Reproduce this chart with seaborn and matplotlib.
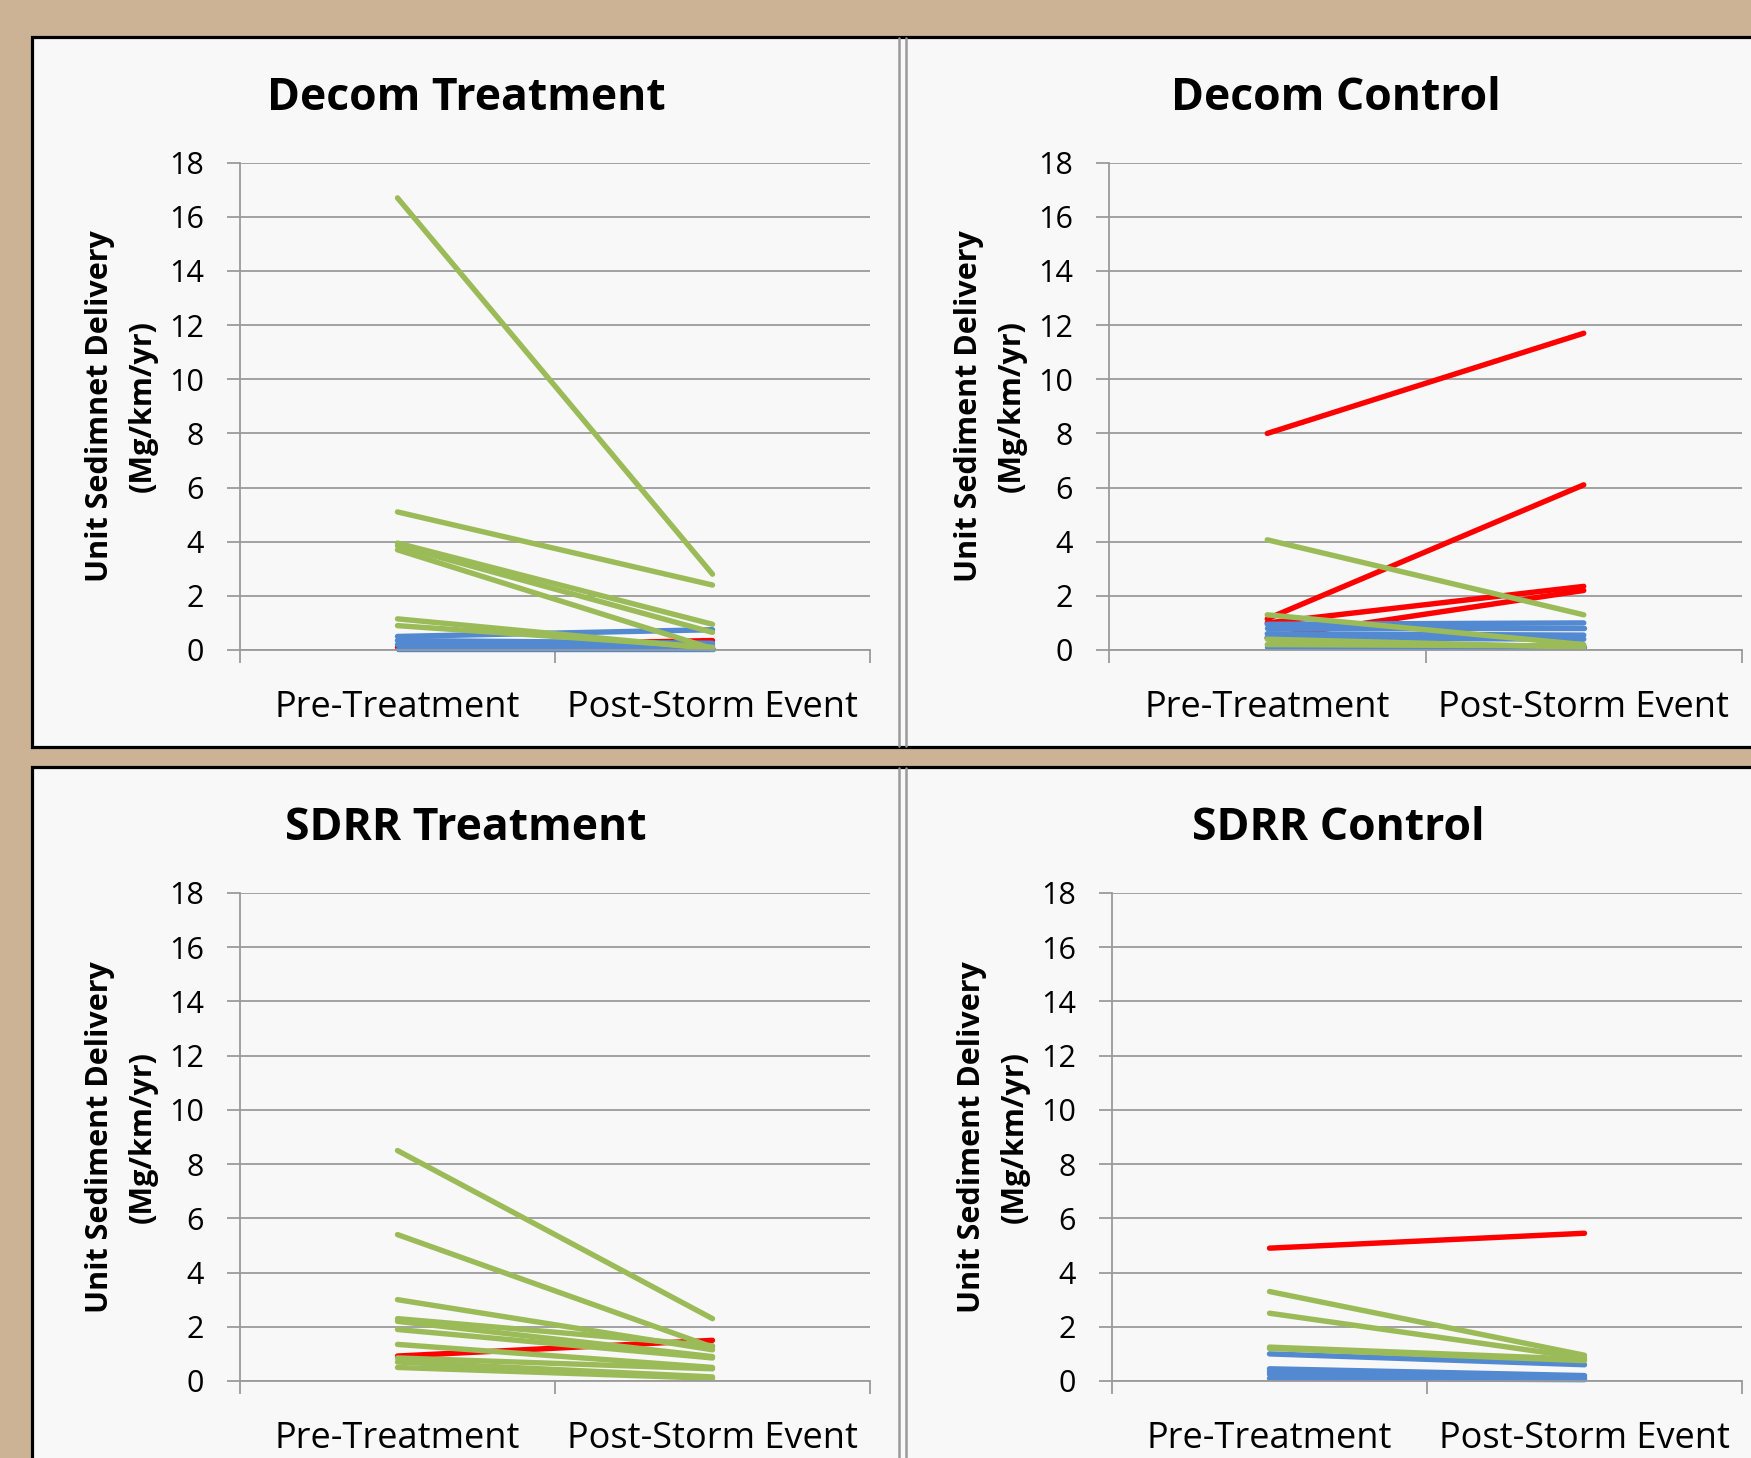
import numpy as np
import pandas as pd
import matplotlib.pyplot as plt
import seaborn as sns
from matplotlib.patches import Rectangle
from matplotlib.lines import Line2D

W, H = 1751, 1458

periods = ['Pre-Treatment', 'Post-Storm Event']

# ---- Decom Treatment ----
dt_green_pre = [16.7, 5.1, 3.95, 3.85, 3.7, 1.15, 0.9]
dt_green_post = [2.8, 2.4, 0.95, 0.65, 0.05, 0.05, 0.1]
dt_blue_pre = [0.5, 0.35, 0.2, 0.05]
dt_blue_post = [0.75, 0.25, 0.15, 0.05]
dt_red_pre = [0.1]
dt_red_post = [0.35]

# ---- Decom Control ----
dc_green_pre = [4.07, 1.3, 0.4, 0.2]
dc_green_post = [1.3, 0.2, 0.1, 0.15]
dc_blue_pre = [0.95, 0.8, 0.6, 0.45, 0.1]
dc_blue_post = [1.0, 0.8, 0.55, 0.4, 0.1]
dc_red_pre = [8.0, 1.15, 1.0, 0.45]
dc_red_post = [11.7, 6.1, 2.35, 2.2]

# ---- SDRR Treatment ----
st_green_pre = [8.5, 5.4, 3.0, 2.3, 2.2, 1.9, 1.35, 0.85, 0.7, 0.5]
st_green_post = [2.3, 1.25, 1.15, 1.3, 0.9, 0.85, 0.5, 0.45, 0.15, 0.1]
st_blue_pre = []
st_blue_post = []
st_red_pre = [0.92]
st_red_post = [1.5]

# ---- SDRR Control ----
sc_green_pre = [3.3, 2.5, 1.25, 1.2]
sc_green_post = [0.95, 0.85, 0.8, 0.75]
sc_blue_pre = [1.0, 0.45, 0.35, 0.25, 0.1]
sc_blue_post = [0.6, 0.2, 0.15, 0.1, 0.05]
sc_red_pre = [4.9]
sc_red_post = [5.45]

palette = {'red': '#FF0000', 'blue': '#5289D1', 'green': '#9BBB59'}


def long_table(green_pre, green_post, blue_pre, blue_post, red_pre, red_post):
    rows = []
    site = 0
    for group, pre, post in [('red', red_pre, red_post),
                             ('blue', blue_pre, blue_post),
                             ('green', green_pre, green_post)]:
        for a, b in zip(pre, post):
            rows.append({'site': site, 'group': group, 'period': periods[0], 'value': a})
            rows.append({'site': site, 'group': group, 'period': periods[1], 'value': b})
            site += 1
    return pd.DataFrame(rows)


decom_treat = long_table(dt_green_pre, dt_green_post, dt_blue_pre, dt_blue_post, dt_red_pre, dt_red_post)
decom_ctrl = long_table(dc_green_pre, dc_green_post, dc_blue_pre, dc_blue_post, dc_red_pre, dc_red_post)
sdrr_treat = long_table(st_green_pre, st_green_post, st_blue_pre, st_blue_post, st_red_pre, st_red_post)
sdrr_ctrl = long_table(sc_green_pre, sc_green_post, sc_blue_pre, sc_blue_post, sc_red_pre, sc_red_post)

sns.set_theme(style='whitegrid')
plt.rcParams['font.family'] = ['Open Sans', 'DejaVu Sans']

fig = plt.figure(figsize=(W / 100, H / 100), dpi=100)
fig.patch.set_facecolor('#CDB395')


def frac(l, t, r, b):
    return [l / W, 1 - b / H, (r - l) / W, (b - t) / H]


# panel frames (behind the axes)
for top, bottom in [(36.5, 747), (766.5, 1480)]:
    fig.patches.append(Rectangle((32 / W, 1 - bottom / H), (1790 - 32) / W, (bottom - top) / H,
                                 transform=fig.transFigure, facecolor='#F8F8F8',
                                 edgecolor='black', lw=2.3, zorder=-3))
    for x in [898.5, 905.5]:
        fig.add_artist(Line2D([x / W, x / W], [1 - (bottom - 1.5) / H, 1 - (top + 1.5) / H],
                              transform=fig.transFigure, color='#9a9a9a', lw=1.8, zorder=-2))

panels = [
    ('Decom Treatment', 'Unit Sedimnet Delivery\n(Mg/km/yr)', decom_treat, (240, 162.7, 870, 650), (466, 98)),
    ('Decom Control', 'Unit Sediment Delivery\n(Mg/km/yr)', decom_ctrl, (1109, 162.7, 1742, 650), (1336, 98)),
    ('SDRR Treatment', 'Unit Sediment Delivery\n(Mg/km/yr)', sdrr_treat, (240, 893, 870, 1381), (466, 828)),
    ('SDRR Control', 'Unit Sediment Delivery\n(Mg/km/yr)', sdrr_ctrl, (1112, 893, 1742, 1381), (1338, 828)),
]

grid_col = '#9a9a9a'
for title, ylab, df, box, tpos in panels:
    ax = fig.add_axes(frac(*box))
    ax.set_facecolor('none')
    ax.set_zorder(1)
    sns.lineplot(data=df, x='period', y='value', hue='group', units='site', estimator=None,
                 hue_order=['red', 'blue', 'green'], palette=palette, lw=3.9,
                 legend=False, sort=False, ax=ax)
    for ln in ax.lines:
        ln.set_clip_on(False)
        ln.set_solid_capstyle('round')
    ax.set_xlim(-0.5, 1.5)
    ax.set_ylim(0, 18)
    ax.set_yticks(range(0, 19, 2))
    ax.set_xticks([0, 1], periods)
    ax.set_xticks([-0.5, 0.5, 1.5], minor=True)
    ax.grid(axis='x', visible=False)
    ax.grid(axis='y', which='major', color=grid_col, lw=1.3)
    ax.tick_params(axis='x', which='major', bottom=True, length=0, pad=29, labelsize=26, labelcolor='black')
    ax.tick_params(axis='x', which='minor', bottom=True, length=9.5, width=1.3, color=grid_col, direction='out')
    ax.tick_params(axis='y', left=True, length=9.5, width=1.3, color=grid_col, direction='out',
                   pad=16.5, labelsize=22, labelcolor='black')
    for s in ['top', 'right']:
        ax.spines[s].set_visible(False)
    for s in ['left', 'bottom']:
        ax.spines[s].set_color(grid_col)
        ax.spines[s].set_linewidth(1.3)
    ax.set_xlabel('')
    ax.set_ylabel(ylab, fontsize=22, fontweight='bold', linespacing=1.55, color='black')
    ax.yaxis.set_label_coords(-0.13, 0.5)
    fig.text(tpos[0] / W, 1 - tpos[1] / H, title, ha='center', va='center',
             fontsize=32, fontweight='bold', color='black')

fig.savefig('out.png', dpi=100, facecolor=fig.get_facecolor())
